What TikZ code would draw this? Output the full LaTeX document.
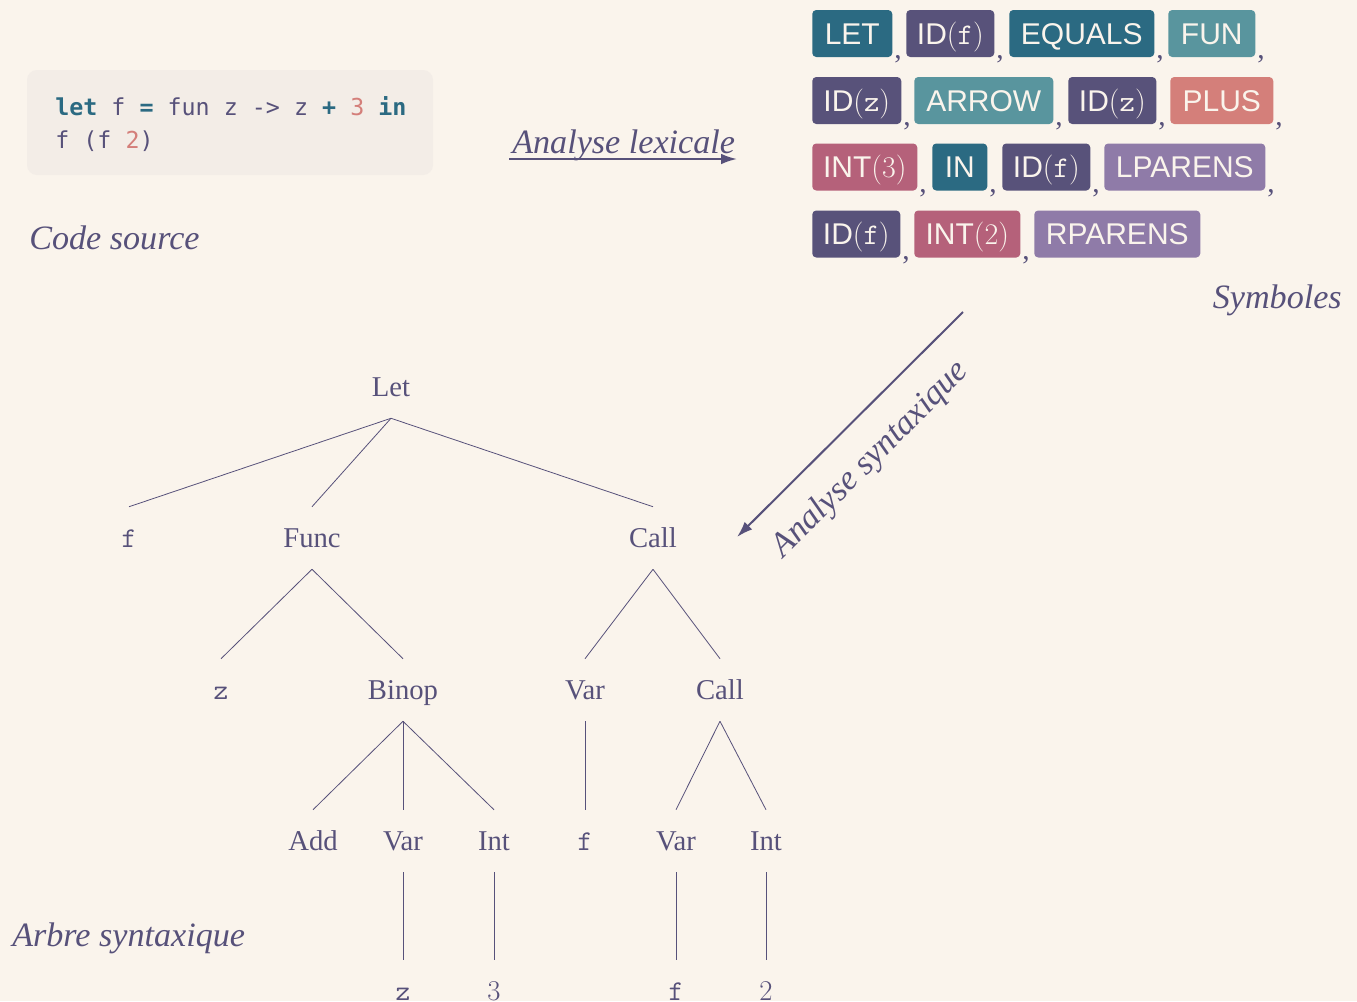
\documentclass[tikz,border=0pt]{standalone}
\usepackage{fontspec}
\setmainfont{Liberation Serif}
\newfontfamily\tokfont{Liberation Sans}
\newfontfamily\codefont{DejaVu Sans Mono}
\usetikzlibrary{arrows.meta,calc}
\newcommand\lmrm[1]{{\fontfamily{lmr}\selectfont #1}}
\newcommand\kw[1]{{\bfseries\color{tealdk}#1}}
\newcommand\num[1]{{\color{salmon}#1}}
\definecolor{bg}{RGB}{250,244,236}
\definecolor{ink}{RGB}{87,81,122}
\definecolor{codebg}{RGB}{243,237,231}
\definecolor{tealdk}{RGB}{43,106,130}
\definecolor{teallt}{RGB}{89,149,158}
\definecolor{idc}{RGB}{88,82,122}
\definecolor{salmon}{RGB}{212,127,122}
\definecolor{intc}{RGB}{181,97,122}
\definecolor{lav}{RGB}{143,123,168}
\begin{document}
\begin{tikzpicture}[x=0.75pt,y=-0.75pt,
  tok/.style={rounded corners=3pt, inner xsep=2pt, inner ysep=0pt, minimum height=35.25pt,
    text height=16pt, text depth=0pt, text=bg, font=\tokfont\fontsize{22.5}{27}\selectfont, anchor=west},
  tw/.style={minimum width=#1*0.75pt},
  comma/.style={anchor=base west, inner sep=0pt, text=ink, font=\fontsize{22}{26}\selectfont},
  tn/.style={inner sep=0pt, minimum height=46.5pt, text height=14.2pt, text depth=0pt, text=ink,
    font=\fontsize{21.5}{26}\selectfont},
  edge/.style={draw=ink, line width=0.6pt},
  lbl/.style={text=ink, inner sep=0pt, font=\itshape\fontsize{25.6}{30}\selectfont},
  flow/.style={draw=ink, line width=1.5pt, -{Latex[length=12pt,width=8pt]}},
  codeline/.style={anchor=base west, inner sep=0pt, text=ink, font=\codefont\fontsize{17.5}{21}\selectfont}
]
\useasboundingbox (0,0) rectangle (1357,1001);
\fill[bg] (0,0) rectangle (1357,1001);

% code block
\node[fill=codebg, rounded corners=7.5pt, minimum width=304.5pt, minimum height=78.75pt, inner sep=0pt] (codebox) at (230,122.5) {};
\node[codeline] (code1) at (55,115) {\kw{let} f \kw{=} fun z -> z \kw{+} \num{3} \kw{in}};
\node[codeline] (code2) at (55,148) {f (f \num{2})};

% labels
\node[lbl, anchor=base west] (codelbl) at (29,249) {Code source};
\node[lbl, anchor=base west] (lexlbl) at (512,153) {Analyse lexicale};
\node[lbl, anchor=base east] (symlbl) at (1342,308) {Symboles};
\node[lbl, anchor=base west] (arbrelbl) at (12,946) {Arbre syntaxique};
\node[lbl, rotate=45] (synlbl) at (871,460) {Analyse syntaxique};

% arrows
\coordinate (lexA) at (509,159);
\coordinate (lexB) at (737,159);
\draw[flow] (lexA) -- (lexB);
\coordinate (synA) at (963,312);
\coordinate (synB) at (737,537);
\draw[flow] (synA) -- (synB);

% tokens
\node[tok, fill=tealdk, tw=80] (tLET) at (812,33.5) {LET};
\node[tok, fill=idc, tw=88] (tIDf1) at (906,33.5) {ID\lmrm{(}\texttt{f}\lmrm{)}};
\node[tok, fill=tealdk, tw=145] (tEQ) at (1009,33.5) {EQUALS};
\node[tok, fill=teallt, tw=87] (tFUN) at (1168,33.5) {FUN};

\node[tok, fill=idc, tw=89] (tIDz1) at (812,100.5) {ID\lmrm{(}\texttt{z}\lmrm{)}};
\node[tok, fill=teallt, tw=139] (tARROW) at (914,100.5) {ARROW};
\node[tok, fill=idc, tw=88] (tIDz2) at (1068,100.5) {ID\lmrm{(}\texttt{z}\lmrm{)}};
\node[tok, fill=salmon, tw=103] (tPLUS) at (1170,100.5) {PLUS};

\node[tok, fill=intc, tw=105] (tINT3) at (812,167) {INT\lmrm{(3)}};
\node[tok, fill=tealdk, tw=55] (tIN) at (932,167) {IN};
\node[tok, fill=idc, tw=88] (tIDf2) at (1002,167) {ID\lmrm{(}\texttt{f}\lmrm{)}};
\node[tok, fill=lav, tw=161] (tLP) at (1104,167) {LPARENS};

\node[tok, fill=idc, tw=88] (tIDf3) at (812,234) {ID\lmrm{(}\texttt{f}\lmrm{)}};
\node[tok, fill=intc, tw=106] (tINT2) at (914,234) {INT\lmrm{(2)}};
\node[tok, fill=lav, tw=166] (tRP) at (1034,234) {RPARENS};

% commas
\foreach \t [count=\i] in {tLET,tIDf1,tEQ,tFUN,tIDz1,tARROW,tIDz2,tPLUS,tINT3,tIN,tIDf2,tLP,tIDf3,tINT2}
  \node[comma] (cm\i) at ($(\t.south east)+(1.5,1.5)$) {,};

% tree
\node[tn] (let) at (391,387) {Let};
\node[tn] (f1) at (129,538) {\texttt{f}};
\node[tn] (func) at (312,538) {Func};
\node[tn] (call1) at (653,538) {Call};
\node[tn] (z1) at (221,690) {\texttt{z}};
\node[tn] (binop) at (403,690) {Binop};
\node[tn] (var1) at (585,690) {Var};
\node[tn] (call2) at (720,690) {Call};
\node[tn] (add) at (313,841) {Add};
\node[tn] (var2) at (403,841) {Var};
\node[tn] (int1) at (494,841) {Int};
\node[tn] (f2) at (585,841) {\texttt{f}};
\node[tn] (var3) at (676,841) {Var};
\node[tn] (int2) at (766,841) {Int};
\node[tn] (z2) at (403,991) {\texttt{z}};
\node[tn] (n3) at (494,991) {\lmrm{3}};
\node[tn] (f3) at (676,991) {\texttt{f}};
\node[tn] (n2) at (766,991) {\lmrm{2}};

\draw[edge] (let.south) -- (f1.north);
\draw[edge] (let.south) -- (func.north);
\draw[edge] (let.south) -- (call1.north);
\draw[edge] (func.south) -- (z1.north);
\draw[edge] (func.south) -- (binop.north);
\draw[edge] (call1.south) -- (var1.north);
\draw[edge] (call1.south) -- (call2.north);
\draw[edge] (binop.south) -- (add.north);
\draw[edge] (binop.south) -- (var2.north);
\draw[edge] (binop.south) -- (int1.north);
\draw[edge] (var1.south) -- (f2.north);
\draw[edge] (call2.south) -- (var3.north);
\draw[edge] (call2.south) -- (int2.north);
\draw[edge] (var2.south) -- (z2.north);
\draw[edge] (int1.south) -- (n3.north);
\draw[edge] (var3.south) -- (f3.north);
\draw[edge] (int2.south) -- (n2.north);
\end{tikzpicture}
\end{document}
